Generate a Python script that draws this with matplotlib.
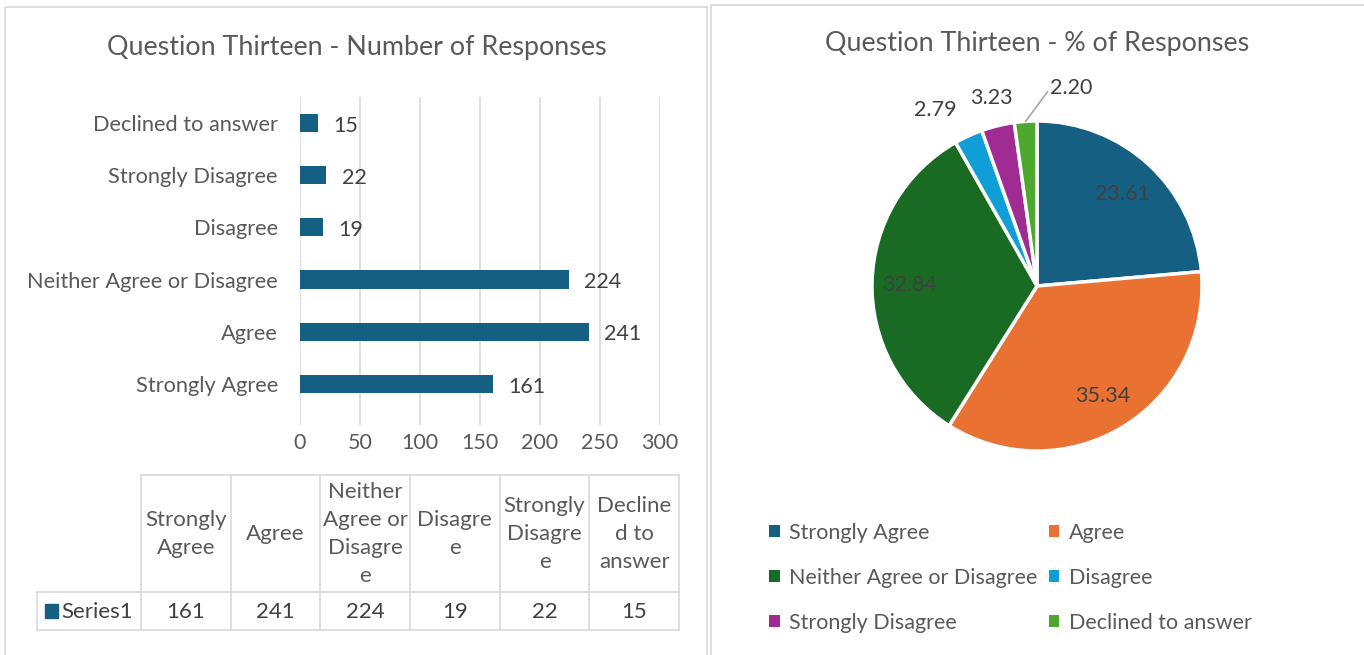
#!/usr/bin/env python3

import matplotlib.pyplot as plt
from matplotlib.patches import Rectangle, Patch
import numpy as np

plt.rcParams['font.family'] = ['Lato', 'DejaVu Sans']

##########################################################################
# DATA
##########################################################################

categories = ["Strongly Agree", "Agree", "Neither Agree or Disagree",
              "Disagree", "Strongly Disagree", "Declined to answer"]
counts = [161, 241, 224, 19, 22, 15]
percents = [23.61, 35.34, 32.84, 2.79, 3.23, 2.20]
table_headers = ["Strongly\nAgree", "Agree", "Neither\nAgree or\nDisagre\ne",
                 "Disagre\ne", "Strongly\nDisagre\ne", "Decline\nd to\nanswer"]
x_ticks = [0, 50, 100, 150, 200, 250, 300]
series_name = "Series1"

colors = ["#156082", "#E97132", "#196B24", "#0F9ED5", "#A02B93", "#4EA72E"]
bar_color = "#156082"
text_grey = "#595959"
dark_grey = "#404040"
line_grey = "#d9d9d9"

W, H = 1364, 655


# Converts a rectangle in pixel coords (top-left origin) to figure fraction
def px_rect(l, t, r, b):
    return [l / W, 1 - b / H, (r - l) / W, (b - t) / H]


fig = plt.figure(figsize=(W / 100, H / 100), dpi=100)

# Background axis in pixel units for panel borders and the data table
bg = fig.add_axes([0, 0, 1, 1])
bg.set_xlim(0, W)
bg.set_ylim(H, 0)
bg.axis("off")
bg.add_patch(Rectangle((5, 7), 702, 660, fill=False, ec=line_grey, lw=1.2))
bg.add_patch(Rectangle((711, 5), 660, 660, fill=False, ec=line_grey, lw=1.2))

##########################################################################
# BAR CHART
##########################################################################

ax = fig.add_axes(px_rect(300, 97, 660, 425))
ypos = np.arange(len(categories))
ax.barh(ypos, counts, height=0.35, color=bar_color, zorder=3)
ax.set_xlim(0, 300)
ax.set_ylim(-0.79, 5.5)
ax.set_xticks(x_ticks)
ax.set_yticks(ypos)
ax.set_yticklabels(categories)
ax.tick_params(axis="x", length=0, pad=6, labelsize=15.5, labelcolor=text_grey)
ax.tick_params(axis="y", length=0, pad=16, labelsize=15.7, labelcolor=text_grey)
ax.grid(axis="x", color=line_grey, lw=1.2, zorder=0)
for s in ax.spines.values():
    s.set_visible(False)
for y, v in zip(ypos, counts):
    ax.annotate(str(v), (v, y), xytext=(11, -2), textcoords="offset points",
                ha="left", va="center", fontsize=15.5, color=dark_grey)

fig.text(357 / W, 1 - 48 / H, "Question Thirteen - Number of Responses",
         ha="center", va="center", fontsize=19.4, color=text_grey)

# Data table below the bar chart
col_left = 141
col_w = (679 - 141) / len(categories)
top, mid, bot = 475, 592, 630
for i in range(len(categories) + 1):
    x = col_left + i * col_w
    bg.plot([x, x], [top, bot], color=line_grey, lw=1.2)
bg.plot([col_left, 679], [top, top], color=line_grey, lw=1.2)
bg.plot([37, 679], [mid, mid], color=line_grey, lw=1.2)
bg.plot([37, 679], [bot, bot], color=line_grey, lw=1.2)
bg.plot([37, 37], [mid, bot], color=line_grey, lw=1.2)
for i, (h, v) in enumerate(zip(table_headers, counts)):
    cx = col_left + (i + 0.5) * col_w
    bg.text(cx, (top + mid) / 2 + 1, h, ha="center", va="center", fontsize=16,
            color=text_grey, linespacing=1.5)
    bg.text(cx, (mid + bot) / 2 + 1, str(v), ha="center", va="center",
            fontsize=16, color=dark_grey)
bg.add_patch(Rectangle((45, 604), 13, 14, color=bar_color))
bg.text(61, (mid + bot) / 2 + 1, series_name, ha="left", va="center",
        fontsize=16, color=dark_grey)

##########################################################################
# PIE CHART
##########################################################################

R = 165
half = 1.3 * R
pax = fig.add_axes(px_rect(1037 - half, 286 - half, 1037 + half, 286 + half))
wedges, _ = pax.pie(percents, colors=colors, startangle=90, counterclock=False,
                    wedgeprops=dict(edgecolor="white", linewidth=2.5))
pax.set_xlim(-1.3, 1.3)
pax.set_ylim(-1.3, 1.3)
pax.set_aspect("equal")

for i, (w, p) in enumerate(zip(wedges, percents)):
    ang = np.deg2rad((w.theta1 + w.theta2) / 2)
    label = "%.2f" % p
    if p > 10:
        pax.text(0.77 * np.cos(ang), 0.77 * np.sin(ang), label, ha="center",
                 va="center_baseline", fontsize=15.5, color=dark_grey)
    elif i == len(percents) - 1:
        # Smallest slice gets a leader line
        pax.annotate(label, (np.cos(ang), np.sin(ang)),
                     xytext=(np.cos(ang) + 0.15, 1.2), ha="left", va="center",
                     fontsize=15.5, color=dark_grey,
                     arrowprops=dict(arrowstyle="-", color="#a6a6a6", lw=1.2,
                                     shrinkA=0, shrinkB=0, relpos=(0, 0.5)))
    else:
        pax.text(1.17 * np.cos(ang), 1.17 * np.sin(ang), label,
                 ha="right" if i == 3 else "center", va="center",
                 fontsize=15.5, color=dark_grey)

fig.text(1037 / W, 1 - 44 / H, "Question Thirteen - % of Responses",
         ha="center", va="center", fontsize=19.4, color=text_grey)

# Legend fills row by row, so reorder for matplotlib's column filling
order = [0, 2, 4, 1, 3, 5]
handles = [Patch(facecolor=colors[k], edgecolor="none") for k in order]
labels = [categories[k] for k in order]
fig.legend(handles, labels, ncol=2, loc="upper left",
           bbox_to_anchor=(769 / W, 1 - 523 / H), frameon=False,
           fontsize=15.5, labelcolor=text_grey, handlelength=0.5,
           handleheight=0.5, handletextpad=0.45, columnspacing=0.5,
           labelspacing=1.16, borderpad=0, borderaxespad=0)

fig.savefig("out.png", dpi=100)
